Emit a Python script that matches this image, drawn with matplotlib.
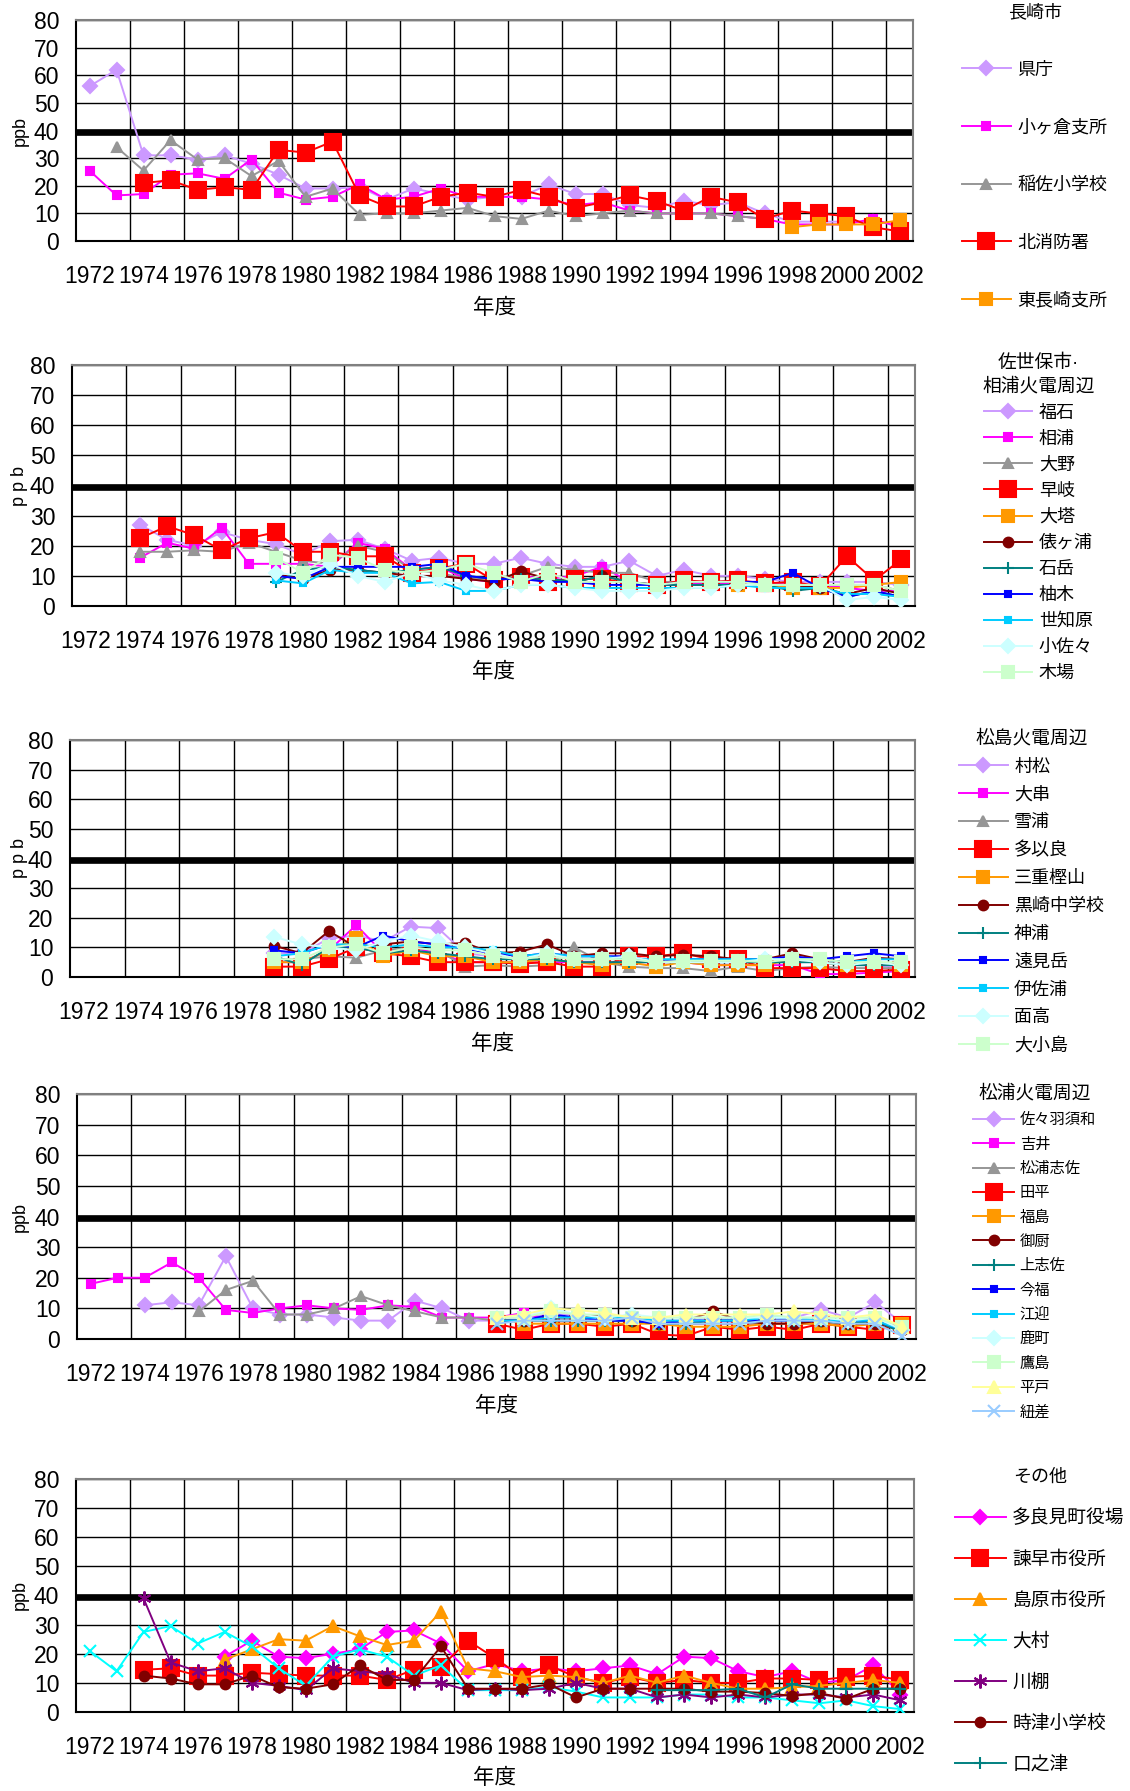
import matplotlib
matplotlib.use('Agg')
import matplotlib.pyplot as plt
import numpy as np

plt.rcParams['font.family'] = ['Liberation Sans', 'Noto Sans CJK JP']

W, H = 1130, 1791

years = list(range(1972, 2003))

# ---- 長崎市
p1_title = '長崎市'
p1_names = ['県庁', '小ヶ倉支所', '稲佐小学校', '北消防署', '東長崎支所']
p1_start = [1972, 1972, 1973, 1974, 1998]
p1_values = [
    [56, 62, 31, 31, 29.5, 31, 28, 24, 19, 19, 19.5, 15, 19, 17, 15, 16, 16, 20.5, 17, 17, 13, 12, 14.5, 13, 14, 10, 7, 7, 7, 7, 6],
    [25.5, 16.5, 17, 24, 24.5, 22.5, 29.5, 17.5, 15, 16, 20.5, 15, 16, 19, 16, 16, 16, 15, 13, 14, 11, 10, 10, 10, 9, 8, 6, 6, 6, 8, 5],
    [34, 25.5, 36.5, 29.5, 30, 23.5, 29, 16, 19, 9.5, 10, 10, 11, 12, 9, 8, 11, 9, 10, 11, 10, 10, 10, 9, 8],
    [21, 22, 18.5, 19.5, 18.5, 33, 32, 36, 16.5, 12.5, 12.5, 16, 17.5, 16, 18.5, 16, 12, 14, 16.5, 14.5, 11, 16, 14, 8, 11, 10, 9, 5, 3.5],
    [5, 6, 6, 6, 7.5],
]

# ---- 佐世保市・相浦火電周辺
p2_title = '佐世保市·\n相浦火電周辺'
p2_names = ['福石', '相浦', '大野', '早岐', '大塔', '俵ヶ浦', '石岳', '柚木', '世知原', '小佐々', '木場']
p2_start = [1974, 1974, 1974, 1974, 1996, 1979, 1979, 1979, 1979, 1979, 1979]
p2_values = [
    [27, 22, 20, 24.5, 22, 20.5, 17, 21.5, 22, 19, 15, 16, 14, 14, 16, 14, 13, 13, 15, 10, 12, 10, 10, 9, 8, 8, 8, 8, 7],
    [16, 21, 19, 26, 14, 14, 14, 13, 21, 19, 12, 13, 9, 8, 10, 9, 10, 13, 8, 7, 8, 7, 8, 8, 7, 7, 6, 5, 5],
    [18, 18, 18.5, 18, 21, 18, 15, 14, 20, 18, 12, 11, 9, 9, 10, 13, 12, 11, 11, 8, 8, 8, 8, 7, 7, 7, 7, 7, 5],
    [22.5, 26.5, 23.5, 18.5, 22.5, 24.5, 18, 18, 16.5, 16.5, 11, 12.5, 14, 8.5, 9.5, 8, 9, 9, 7.5, 7, 8.5, 8, 8.5, 7.5, 8, 6.5, 16.5, 8.5, 15.5],
    [7, 7, 6, 6, 6, 7, 8],
    [10.5, 9, 12, 12, 11, 10, 10, 9, 8, 11.5, 9, 8, 10, 8, 7, 7, 7, 7, 7, 7, 6, 4, 6, 4],
    [8, 12, 13, 12, 11, 12, 13, 10, 9, 9, 9, 8, 10, 8, 7, 7, 7, 7, 7, 5, 6, 3, 5, 3],
    [10, 9, 13, 13, 13, 13, 14, 10, 9, 9, 8, 8, 7, 7, 7, 8, 8, 8, 8, 11, 6, 3, 5, 3],
    [8.5, 7.5, 12, 11, 11, 7.5, 8, 5, 5, 7, 7, 6, 6, 6, 6, 6, 6, 7, 6, 6, 6, 4, 4, 3],
    [11, 10, 14, 10, 8, 11, 8.5, 7, 5, 7, 7, 6, 5, 5, 5, 6, 6, 7, 7, 7, 7, 2, 3, 2],
    [16, 11, 17, 16, 12, 11, 12, 14, 11, 8, 11, 8, 8, 8, 7, 8, 8, 8, 7, 7, 7, 7, 7, 5],
]

# ---- 松島火電周辺
p3_title = '松島火電周辺'
p3_names = ['村松', '大串', '雪浦', '多以良', '三重樫山', '黒崎中学校', '神浦', '遠見岳', '伊佐浦', '面高', '大小島']
p3_start = [1979] * 11
p3_values = [
    [8, 8, 13, 14, 12, 17, 16.5, 8, 7, 6, 7, 6, 6, 6, 5, 5, 5, 5, 5, 5, 5, 4, 4, 3],
    [5, 5, 9, 17.5, 8, 10, 8, 5, 5, 5, 5, 5, 5, 5, 5, 5, 4, 4, 4, 4, 1, 1, 1.5, 2],
    [6, 6, 7, 6.5, 9, 10, 9, 3.5, 4, 3.5, 4, 10, 5, 3.5, 3, 3, 2, 3.5, 2, 3, 3.5, 3, 3, 3],
    [3.5, 3.5, 6, 10, 8, 7, 5, 5, 5, 4.5, 5, 3.5, 3.5, 7, 7, 8, 6, 6, 3, 3, 3, 2, 2, 2.5],
    [5, 5, 9, 13, 7, 9, 7, 7, 5, 5, 6, 5, 4, 5, 3.5, 5, 4, 4, 4, 6, 5, 4, 5, 4],
    [10.5, 8, 15.5, 10, 11, 12, 11, 11.5, 8, 8.5, 11, 7, 8, 8, 7, 7.5, 7, 6, 6, 8, 6, 5, 6.5, 6],
    [7, 4, 10, 10, 8, 9, 8, 7, 6, 6, 6, 5, 5, 5, 5, 5, 5, 5, 5, 5, 5, 4, 4, 4],
    [9, 8, 11, 10, 14, 12, 11, 9.5, 8, 7, 8, 7, 7, 7, 5, 6, 6, 6, 6, 7, 6, 7, 8, 7],
    [7, 8, 11, 11, 10, 11, 10, 10, 9, 7, 8, 7, 7, 6, 6, 6, 6, 6, 6, 6, 6, 5, 6, 6],
    [13.5, 11, 10, 9, 12, 14, 12, 10, 8, 6, 8, 6, 6, 7, 5, 5, 5, 5, 6, 6, 5, 4, 5, 4],
    [6, 6, 10, 11, 8, 10, 9, 9, 7, 6, 7, 6, 6, 6, 5, 5.5, 5.5, 5.5, 5, 6, 6, 5, 5, 5],
]

# ---- 松浦火電周辺
p4_title = '松浦火電周辺'
p4_names = ['佐々羽須和', '吉井', '松浦志佐', '田平', '福島', '御厨', '上志佐', '今福', '江迎', '鹿町', '鷹島', '平戸', '紐差']
p4_start = [1974, 1972, 1976] + [1987] * 10
p4_values = [
    [11, 12, 11, 27, 10, 8, 8, 7, 6, 6, 12.5, 10, 6, 6, 7, 8, 8, 7, 7, 6, 6, 7, 6, 6, 7, 9.5, 7, 12, 5],
    [18, 20, 20, 25, 20, 9.5, 8.5, 10, 11, 10, 9.5, 11, 10.5, 7, 7, 7, 8.5, 6, 6, 6, 6, 5, 5, 5, 5, 5, 5, 5, 5, 5, 4],
    [9, 16, 19, 8, 8, 10, 14, 11, 9, 7, 7, 6, 6, 6, 6, 6, 6, 5, 5, 5, 5, 5, 5, 5, 5, 5, 4],
    [5, 3, 5, 5, 4, 5, 1.5, 1, 4, 3, 4, 3, 5, 4, 3, 4.5],
    [7, 5, 5, 5, 5, 5, 5, 4, 4, 4, 5, 5, 5, 4, 5, 5],
    [6, 6, 7, 7, 8, 6, 5, 6, 9, 6, 5, 5, 6, 5, 5, 3],
    [6, 6, 6, 6, 6, 6, 5, 5, 6, 6, 6, 6, 6, 5, 6, 2],
    [6, 6, 8, 7, 6, 6, 5, 6, 6, 6, 6, 6, 6, 6, 6, 3],
    [6, 6, 7, 7, 7, 7, 6, 6, 6, 6, 7, 7, 6, 6, 6, 3],
    [7, 7, 10, 8, 7, 8, 7, 7, 7, 7, 7, 7, 7, 6, 7, 3],
    [7, 7, 9, 8, 8, 7, 7, 7, 7, 7, 8, 7, 7, 7, 7, 4],
    [7, 8, 10, 9.5, 8.5, 7, 7, 8, 8, 8, 8, 9, 8, 7, 8, 4],
    [5, 6, 6, 6, 6, 7, 5, 5, 5, 5, 6, 6, 6, 5, 5, 1],
]

# ---- その他
p5_title = 'その他'
p5_names = ['多良見町役場', '諫早市役所', '島原市役所', '大村', '川棚', '時津小学校', '口之津']
p5_start = [1977, 1974, 1977, 1972, 1974, 1974, 1993]
p5_values = [
    [19, 24.5, 19, 18.5, 20, 21.5, 27.5, 28, 23.5, 14, 16.5, 14, 15, 14, 15, 16, 13, 19, 18.5, 14, 12, 14, 10, 11, 16, 6],
    [14.5, 15, 12.5, 12.5, 13.5, 13, 12.5, 12.5, 12.5, 11, 14.5, 15.5, 24.5, 18.5, 12, 16, 12, 10, 12, 10, 11, 10, 10, 11.5, 11.5, 11, 12, 12.5, 11],
    [18, 21.5, 25, 24.5, 29.5, 26, 23, 24.5, 34.5, 15, 14, 12, 12.5, 12, 10, 12.5, 10, 12.5, 10, 8, 8, 8.5, 9, 10, 11, 10],
    [21, 14, 27.5, 29.5, 23.5, 27.5, 22.5, 15, 9, 19, 21.5, 19, 12.5, 16, 7.5, 7.5, 7.5, 8.5, 7, 5, 5, 5, 6, 6, 5, 5, 4, 3, 4, 2, 1],
    [39, 17, 14, 15, 10, 9, 7.5, 15, 14, 13, 10, 10, 7.5, 8, 7.5, 8, 10, 8, 8, 5, 6, 5, 6, 5, 6, 6, 5, 6, 4],
    [12.5, 11.5, 9.5, 9.5, 12.5, 8.5, 8, 9.5, 16, 11, 11, 22.5, 8, 8, 8, 9.5, 5, 8, 8, 8, 8, 7, 7, 6.5, 5.5, 6.5, 4.5, 8, 8],
    [7.5, 7.5, 7.5, 8, 5, 9.5, 8, 8, 8, 8],
]

standard = 39.5

# Excel style series formats
base_styles = [
    ('#CC99FF', 'D', 7), ('#FF00FF', 's', 6), ('#969696', '^', 7), ('#FF0000', 's', 12),
    ('#FF9900', 's', 8), ('#800000', 'o', 7), ('#008080', '+', 9), ('#0000FF', 's', 4),
    ('#00CCFF', 's', 4), ('#CCFFFF', 'D', 7), ('#CCFFCC', 's', 8), ('#FFFF99', '^', 8),
    ('#99CCFF', 'x', 8),
]
p5_styles = [
    ('#FF00FF', 'D', 7), ('#FF0000', 's', 12), ('#FF9900', '^', 8), ('#00FFFF', 'x', 9),
    ('#800080', (6, 2, 0), 10), ('#800000', 'o', 7), ('#008080', '+', 9),
]

panels = [
    # data, styles, axes box px (left, top, right, bottom), ylabel, legend (x, y, fs, title fs, spacing)
    (p1_title, p1_names, p1_start, p1_values, base_styles, (76, 20, 913, 241), 'ppb', (962, 4, 13, 13, 2.25)),
    (p2_title, p2_names, p2_start, p2_values, base_styles, (72, 365, 915, 606), 'p p b', (982, 355, 13, 13.5, 0.5)),
    (p3_title, p3_names, p3_start, p3_values, base_styles, (70, 740, 915, 977), 'p p b', (959, 730, 13, 13.5, 0.6)),
    (p4_title, p4_names, p4_start, p4_values, base_styles, (77, 1094, 916, 1339), 'ppb', (973, 1085, 11, 13.5, 0.67)),
    (p5_title, p5_names, p5_start, p5_values, p5_styles, (76, 1479, 914, 1712), 'ppb', (955, 1469, 13.5, 13, 1.26)),
]

fig = plt.figure(figsize=(W / 100, H / 100), dpi=100)

for title, names, starts, values, styles, box, ylab, lg in panels:
    l, t, r, b = box
    ax = fig.add_axes([l / W, 1 - b / H, (r - l) / W, (b - t) / H])
    ax.axhline(standard, color='black', lw=4.8, zorder=1.8)
    for name, s, v, (c, m, ms) in zip(names, starts, values, styles):
        i0 = years.index(s)
        x = np.arange(i0, i0 + len(v))
        ax.plot(x, v, color=c, marker=m, markersize=ms, mfc=c, mec=c, mew=1.5,
                lw=1.4, label=name, zorder=3)

    ax.set_xlim(-0.5, 30.5)
    ax.set_ylim(0, 80)
    ax.set_yticks(range(0, 81, 10))
    ax.set_xticks(range(0, 31, 2))
    ax.set_xticklabels([str(y) for y in years[::2]])
    ax.set_xticks(np.arange(1.5, 30, 2), minor=True)
    ax.grid(axis='y', which='major', color='black', lw=1.0, zorder=1)
    ax.grid(axis='x', which='minor', color='black', lw=1.0, zorder=1)
    ax.set_axisbelow(True)
    ax.tick_params(axis='both', which='both', length=0, labelsize=16.5)
    ax.tick_params(axis='y', pad=12)
    ax.tick_params(axis='x', pad=17)
    for sp in ['left', 'bottom']:
        ax.spines[sp].set_color('black')
        ax.spines[sp].set_linewidth(1.5)
    for sp in ['top', 'right']:
        ax.spines[sp].set_color('#808080')
        ax.spines[sp].set_linewidth(1.5)

    ax.set_xlabel('年度', fontsize=15.5)
    ax.xaxis.set_label_coords(0.5, -67 / (b - t))
    ax.xaxis.label.set_va('center')
    ax.set_ylabel(ylab, fontsize=13)
    ax.yaxis.set_label_coords((20 - l) / (r - l), 0.5)
    ax.yaxis.label.set_va('center')

    lx, ly, fs, tfs, sp = lg
    leg = ax.legend(loc='upper left', bbox_to_anchor=(lx / W, 1 - ly / H),
                    bbox_transform=fig.transFigure, frameon=False, title=title,
                    fontsize=fs, title_fontsize=tfs, borderpad=0, borderaxespad=0,
                    handlelength=2.7, handletextpad=0.35, labelspacing=sp)
    leg.get_title().set_multialignment('center')
    leg.get_title().set_linespacing(1.4)

fig.savefig('out.png', dpi=100)
